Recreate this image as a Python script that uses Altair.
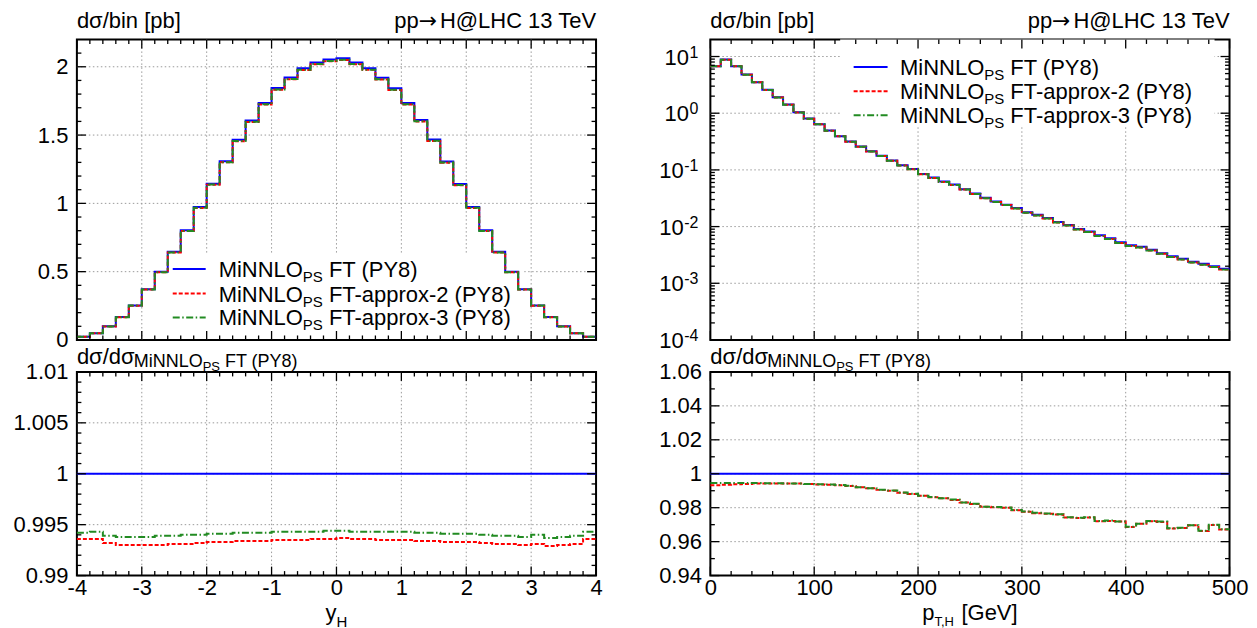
import altair as alt
import pandas as pd

FONT = "Liberation Sans"
FS = 22
SUB = 15
BLUE, RED, GREEN = "#0000ff", "#ff0000", "#228b22"

# ---------------- data ----------------
yh_edges = [round(-4 + 0.2 * i, 1) for i in range(41)]
yh_ft = [0.024, 0.049, 0.100, 0.168, 0.253, 0.372, 0.499, 0.645, 0.803, 0.973,
         1.144, 1.309, 1.465, 1.606, 1.735, 1.844, 1.922, 1.990, 2.032, 2.054,
         2.063, 2.032, 1.990, 1.920, 1.842, 1.735, 1.610, 1.467, 1.307, 1.141,
         0.973, 0.803, 0.645, 0.499, 0.372, 0.253, 0.168, 0.100, 0.049, 0.024]
yh_ratio_a2 = [0.9936, 0.9936, 0.9932, 0.9930, 0.9930, 0.9930, 0.9930, 0.9931, 0.9931, 0.9932,
               0.9933, 0.9933, 0.9934, 0.9934, 0.9934, 0.9935, 0.9935, 0.9935, 0.9936, 0.9936,
               0.9937, 0.9936, 0.9936, 0.9935, 0.9935, 0.9935, 0.9934, 0.9934, 0.9933, 0.9933,
               0.9933, 0.9932, 0.9931, 0.9931, 0.9930, 0.9931, 0.9929, 0.9930, 0.9931, 0.9936]
yh_ratio_a3 = [0.9942, 0.9943, 0.9939, 0.9938, 0.9938, 0.9938, 0.9939, 0.9939, 0.9940, 0.9940,
               0.9941, 0.9941, 0.9942, 0.9942, 0.9942, 0.9943, 0.9943, 0.9943, 0.9943, 0.9944,
               0.9944, 0.9943, 0.9943, 0.9943, 0.9943, 0.9943, 0.9942, 0.9942, 0.9941, 0.9941,
               0.9941, 0.9940, 0.9939, 0.9939, 0.9938, 0.9940, 0.9937, 0.9938, 0.9939, 0.9943]

pt_edges = list(range(0, 510, 10))
pt_ft = [6.75, 8.85, 6.75, 4.81, 3.52, 2.58, 1.91, 1.42, 1.04, 0.805,
         0.640, 0.494, 0.393, 0.316, 0.258, 0.213, 0.177, 0.146, 0.121, 0.104,
         0.0850, 0.0733, 0.0622, 0.0551, 0.0457, 0.0382, 0.0321, 0.0276, 0.0244, 0.0213,
         0.0179, 0.0161, 0.0142, 0.0121, 0.0107, 0.0091, 0.0082, 0.00703, 0.00622, 0.0053,
         0.0047, 0.0044, 0.0039, 0.0034, 0.0030, 0.0027, 0.0024, 0.0022, 0.0020, 0.0018]
pt_ratio_a2 = [0.9932, 0.9935, 0.9938, 0.9940, 0.9942, 0.9943, 0.9943, 0.9943, 0.9942, 0.9940,
               0.9937, 0.9935, 0.9932, 0.9928, 0.9920, 0.9914, 0.9905, 0.9900, 0.9888, 0.9880,
               0.9870, 0.9862, 0.9855, 0.9846, 0.9830, 0.9822, 0.9805, 0.9803, 0.9800, 0.9785,
               0.9776, 0.9768, 0.9765, 0.9760, 0.9742, 0.9740, 0.9742, 0.9720, 0.9722, 0.9718,
               0.9686, 0.9705, 0.9720, 0.9716, 0.9678, 0.9680, 0.9696, 0.9662, 0.9698, 0.9672]
pt_ratio_a3 = [0.9946, 0.9946, 0.9946, 0.9946, 0.9945, 0.9944, 0.9944, 0.9943, 0.9942, 0.9940,
               0.9938, 0.9936, 0.9933, 0.9929, 0.9921, 0.9915, 0.9906, 0.9901, 0.9889, 0.9882,
               0.9871, 0.9863, 0.9856, 0.9848, 0.9831, 0.9823, 0.9806, 0.9804, 0.9801, 0.9786,
               0.9777, 0.9770, 0.9766, 0.9762, 0.9743, 0.9741, 0.9744, 0.9721, 0.9724, 0.9719,
               0.9688, 0.9706, 0.9722, 0.9718, 0.9679, 0.9682, 0.9697, 0.9664, 0.9700, 0.9673]

series_names = ["FT", "FT-approx-2", "FT-approx-3"]
series_colors = [BLUE, RED, GREEN]
series_dash = [None, [4, 2], [7, 2.5, 1.5, 2.5]]

# ticks / labels
yh_major = [-4, -3, -2, -1, 0, 1, 2, 3, 4]
yh_minor = [round(-4 + 0.2 * i, 1) for i in range(1, 40) if i % 5]
pt_major = [0, 100, 200, 300, 400, 500]
pt_minor = [v for v in range(20, 500, 20) if v % 100]
lt_major = [0, 0.5, 1, 1.5, 2]
lt_minor = [round(0.1 * i, 1) for i in range(1, 22) if i % 5]
lr_major = [0.99, 0.995, 1, 1.005, 1.01]
lr_minor = [round(0.99 + 0.001 * i, 3) for i in range(1, 20) if i % 5]
rt_exps = [1, 0, -1, -2, -3, -4]
rt_major = [10.0 ** e for e in rt_exps]
rt_minor = [k * 10.0 ** e for e in range(-4, 1) for k in range(2, 10)]
rr_major = [0.94, 0.96, 0.98, 1, 1.02, 1.04, 1.06]
rr_minor = [0.95, 0.97, 0.99, 1.01, 1.03, 1.05]

# ---------------- helpers ----------------
W = 520
H_TOP, H_BOT = 301, 204
MAJ, MIN = 9, 4.5
ONE = pd.DataFrame({"k": [0]})

AW = {' ': 278, '(': 333, ')': 333, '-': 333, '.': 278, '/': 278, ',': 278, '@': 1015,
      '[': 278, ']': 278, 'C': 722, 'F': 611, 'G': 778, 'H': 722, 'L': 556, 'M': 833,
      'N': 722, 'O': 778, 'P': 667, 'S': 667, 'T': 611, 'V': 667, 'Y': 667, 'a': 556,
      'b': 556, 'd': 556, 'e': 556, 'i': 222, 'n': 556, 'o': 556, 'p': 556, 'r': 333,
      'x': 500, 'y': 500, 'σ': 600, '→': 1000}


def tw(s, fs):
    return sum(AW.get(c, 556) for c in s) * fs / 1000.0


def text_piece(s, x, y, fs, align="left", font=FONT):
    return alt.Chart(ONE).mark_text(text=s, align=align, baseline="alphabetic",
                                    fontSize=fs, font=font, color="black").encode(
        x=alt.value(x), y=alt.value(y))


def step_df(edges, vals):
    return pd.DataFrame({"x": edges, "y": list(vals) + [vals[-1]]})


def lin_axis(values, orient_pad):
    return alt.Axis(values=values, labelExpr="'' + datum.value", ticks=False, tickSize=0,
                    domain=False, grid=False, labelFontSize=FS, labelFont=FONT,
                    labelColor="black", labelPadding=orient_pad, labelFlush=False,
                    labelOverlap=False, title=None)


def panel(xscale, yscale, xaxis, yaxis, H, series, grid_x, grid_y,
          tx_maj, tx_min, ty_maj, ty_min, under=(), over=()):
    X = lambda f: alt.X(f, type="quantitative", scale=xscale, axis=xaxis)
    Y = lambda f: alt.Y(f, type="quantitative", scale=yscale, axis=yaxis)
    gridkw = dict(color="#9a9a9a", strokeWidth=1, strokeDash=[1.5, 2.5])
    layers = [
        alt.Chart(pd.DataFrame({"v": grid_x})).mark_rule(**gridkw).encode(
            x=X("v"), y=alt.value(0), y2=alt.value(H)),
        alt.Chart(pd.DataFrame({"v": grid_y})).mark_rule(**gridkw).encode(
            y=Y("v"), x=alt.value(0), x2=alt.value(W)),
    ]
    layers += list(under)
    for df, c, d in series:
        kw = dict(color=c, strokeWidth=2, interpolate="step-after")
        if d:
            kw["strokeDash"] = d
        layers.append(alt.Chart(df).mark_line(**kw).encode(x=X("x"), y=Y("y")))
    tk = dict(color="black", strokeWidth=1.3)
    for vals, L in ((tx_maj, MAJ), (tx_min, MIN)):
        d = pd.DataFrame({"v": vals})
        layers.append(alt.Chart(d).mark_rule(**tk).encode(x=X("v"), y=alt.value(H), y2=alt.value(H - L)))
        layers.append(alt.Chart(d).mark_rule(**tk).encode(x=X("v"), y=alt.value(0), y2=alt.value(L)))
    for vals, L in ((ty_maj, MAJ), (ty_min, MIN)):
        d = pd.DataFrame({"v": vals})
        layers.append(alt.Chart(d).mark_rule(**tk).encode(y=Y("v"), x=alt.value(0), x2=alt.value(L)))
        layers.append(alt.Chart(d).mark_rule(**tk).encode(y=Y("v"), x=alt.value(W), x2=alt.value(W - L)))
    layers += list(over)
    return alt.layer(*layers).properties(width=W, height=H)


def legend(box, x0, x1, xt, rows):
    bx0, by0, bx1, by1 = box
    boxl = alt.Chart(ONE).mark_rect(color="white").encode(
        x=alt.value(bx0), x2=alt.value(bx1), y=alt.value(by0), y2=alt.value(by1))
    out = []
    for name, c, d, ry in zip(series_names, series_colors, series_dash, rows):
        kw = dict(color=c, strokeWidth=2)
        if d:
            kw["strokeDash"] = d
        out.append(alt.Chart(ONE).mark_rule(**kw).encode(
            x=alt.value(x0), x2=alt.value(x1), y=alt.value(ry)))
        base = ry + 8
        out.append(text_piece("MiNNLO", xt, base, FS))
        xa = xt + tw("MiNNLO", FS)
        out.append(text_piece("PS", xa, base + 5, SUB))
        xb = xa + tw("PS", SUB) + tw(" ", FS)
        out.append(text_piece(name + " (PY8)", xb, base, FS))
    return [boxl], out


def top_titles():
    rest = "H@LHC 13 TeV"
    xr = W - tw(rest, FS)
    arrow_w = 0.838 * FS
    return [text_piece("dσ/bin [pb]", 0, -11, FS),
            text_piece(rest, W, -11, FS, align="right"),
            text_piece("→", xr, -11, FS, align="right", font="DejaVu Sans"),
            text_piece("pp", xr - arrow_w, -11, FS, align="right")]


def ratio_title():
    s1, s2, s3 = 18, 13, 18
    x1 = tw("dσ/dσ", FS)
    x2 = x1 + tw("MiNNLO", s1)
    x3 = x2 + tw("PS", s2) + tw(" ", s3)
    return [text_piece("dσ/dσ", 0, -8, FS),
            text_piece("MiNNLO", x1, -5, s1),
            text_piece("PS", x2, -1, s2),
            text_piece("FT (PY8)", x3, -5, s3)]


def x_title(parts, H):
    # parts: (text, size, baseline offset, gap-before)
    total = sum(tw(t, s) + g for t, s, o, g in parts)
    x = W / 2 - total / 2
    out = []
    for t, s, o, g in parts:
        x += g
        out.append(text_piece(t, x, H + o, s))
        x += tw(t, s)
    return out


# ---------------- panels ----------------
xs_l = alt.Scale(domain=[-4, 4], nice=False, zero=False)
xs_r = alt.Scale(domain=[0, 500], nice=False, zero=False)
ys_lt = alt.Scale(domain=[0, 2.2], nice=False, zero=False)
ys_lr = alt.Scale(domain=[0.99, 1.01], nice=False, zero=False)
ys_rt = alt.Scale(type="log", domain=[1e-4, 20], nice=False)
ys_rr = alt.Scale(domain=[0.94, 1.06], nice=False, zero=False)

lt_series = [(step_df(yh_edges, yh_ft), BLUE, None),
             (step_df(yh_edges, [a * r for a, r in zip(yh_ft, yh_ratio_a2)]), RED, series_dash[1]),
             (step_df(yh_edges, [a * r for a, r in zip(yh_ft, yh_ratio_a3)]), GREEN, series_dash[2])]
lr_series = [(step_df(yh_edges, [1.0] * len(yh_ft)), BLUE, None),
             (step_df(yh_edges, yh_ratio_a2), RED, series_dash[1]),
             (step_df(yh_edges, yh_ratio_a3), GREEN, series_dash[2])]
rt_series = [(step_df(pt_edges, pt_ft), BLUE, None),
             (step_df(pt_edges, [a * r for a, r in zip(pt_ft, pt_ratio_a2)]), RED, series_dash[1]),
             (step_df(pt_edges, [a * r for a, r in zip(pt_ft, pt_ratio_a3)]), GREEN, series_dash[2])]
rr_series = [(step_df(pt_edges, [1.0] * len(pt_ft)), BLUE, None),
             (step_df(pt_edges, pt_ratio_a2), RED, series_dash[1]),
             (step_df(pt_edges, pt_ratio_a3), GREEN, series_dash[2])]

lbox, lleg = legend((90, 214, 448, 300), 96, 129, 142, [230, 254.5, 278.5])
rbox, rleg = legend((130, 0, 505, 86), 143.5, 177.5, 190, [27.5, 52, 76])

left_top = panel(xs_l, ys_lt, None, lin_axis(lt_major, 9), H_TOP, lt_series,
                 [-3, -2, -1, 0, 1, 2, 3], [0.5, 1, 1.5, 2],
                 yh_major, yh_minor, lt_major, lt_minor,
                 under=lbox, over=lleg + top_titles())

left_bot = panel(xs_l, ys_lr, lin_axis(yh_major, 2), lin_axis(lr_major, 9), H_BOT, lr_series,
                 [-3, -2, -1, 0, 1, 2, 3], [0.995, 1, 1.005],
                 yh_major, yh_minor, lr_major, lr_minor,
                 over=ratio_title() + x_title([("y", FS, 44, 0), ("H", 15, 51, 0)], H_BOT))

# log labels for the right-top panel (10 + superscript exponent)
Yrt = lambda f: alt.Y(f, type="quantitative", scale=ys_rt, axis=None)
log_labels = []
for e, v in zip(rt_exps, rt_major):
    sup = str(e)
    xr = -12
    log_labels.append(alt.Chart(pd.DataFrame({"v": [v]})).mark_text(
        text=sup, align="right", baseline="alphabetic", dy=1, fontSize=16, font=FONT,
        color="black").encode(y=Yrt("v"), x=alt.value(xr)))
    log_labels.append(alt.Chart(pd.DataFrame({"v": [v]})).mark_text(
        text="10", align="right", baseline="alphabetic", dy=8, fontSize=FS, font=FONT,
        color="black").encode(y=Yrt("v"), x=alt.value(xr - tw(sup, 16) - 0.5)))

right_top = panel(xs_r, ys_rt, None, None, H_TOP, rt_series,
                  [100, 200, 300, 400], [1e-3, 1e-2, 1e-1, 1, 10],
                  pt_major, pt_minor, rt_major, rt_minor,
                  under=rbox, over=rleg + top_titles() + log_labels)

right_bot = panel(xs_r, ys_rr, lin_axis(pt_major, 2), lin_axis(rr_major, 9), H_BOT, rr_series,
                  [100, 200, 300, 400], [0.96, 0.98, 1, 1.02, 1.04],
                  pt_major, pt_minor, rr_major, rr_minor,
                  over=ratio_title() + x_title([("p", FS, 44, 0), ("T,H", 13, 50, 0),
                                                ("[GeV]", FS, 44, tw(" ", FS))], H_BOT))

chart = alt.concat(left_top, right_top, left_bot, right_bot, columns=2,
                   spacing={"row": 32, "column": 114.5}, bounds="flush").properties(
    padding={"left": 3, "top": 1, "right": 0, "bottom": 0}
).configure_view(stroke="black", strokeWidth=2)

chart.save("out.html", embed_options={"renderer": "svg", "actions": False})
